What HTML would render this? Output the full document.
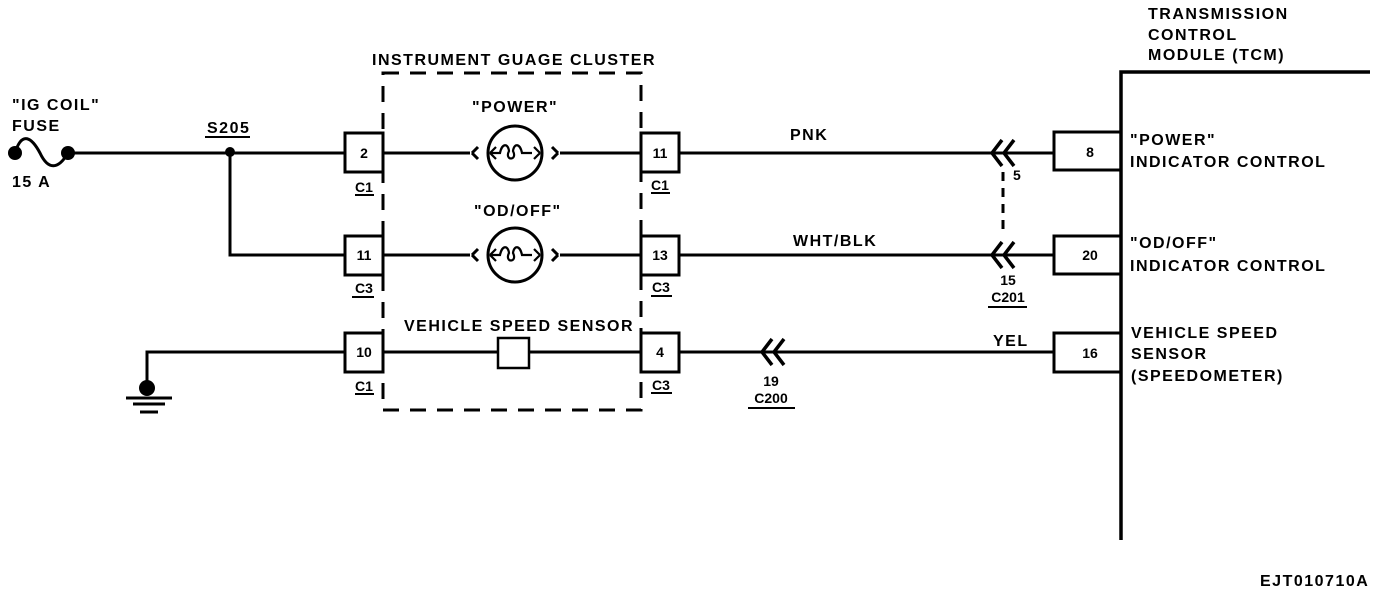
<!DOCTYPE html>
<html><head><style>
body{margin:0;background:#fff;}
svg text{font-family:"Liberation Sans",Arial,sans-serif;font-weight:bold;fill:#000;}
</style></head><body>
<svg width="1392" height="594" viewBox="0 0 1392 594" xmlns="http://www.w3.org/2000/svg">
<g stroke="#000" stroke-width="3" fill="none">
<path d="M15 153 C22 130 32 138 40 153 C48 170 58 170 68 153"/>
<line x1="68" y1="153" x2="345" y2="153"/>
<polyline points="230,152 230,255 345,255"/>
<line x1="383" y1="153" x2="470" y2="153"/>
<line x1="560" y1="153" x2="641" y2="153"/>
<line x1="383" y1="255" x2="470" y2="255"/>
<line x1="560" y1="255" x2="641" y2="255"/>
<line x1="383" y1="352" x2="498" y2="352"/>
<line x1="529" y1="352" x2="641" y2="352"/>
<line x1="679" y1="153" x2="1054" y2="153"/>
<line x1="679" y1="255" x2="1054" y2="255"/>
<line x1="679" y1="352" x2="1054" y2="352"/>
<polyline points="345,352 147,352 147,385"/>
<line x1="126" y1="398" x2="172" y2="398"/>
<line x1="133" y1="404" x2="165" y2="404"/>
<line x1="140" y1="412" x2="158" y2="412"/>
<rect x="345" y="133" width="38" height="39"/>
<rect x="345" y="236" width="38" height="39"/>
<rect x="345" y="333" width="38" height="39"/>
<rect x="641" y="133" width="38" height="39"/>
<rect x="641" y="236" width="38" height="39"/>
<rect x="641" y="333" width="38" height="39"/>
<rect x="498" y="338" width="31" height="30" stroke-width="2.5"/>
<rect x="1054" y="132" width="67" height="38"/>
<rect x="1054" y="236" width="67" height="38"/>
<rect x="1054" y="333" width="67" height="39"/>
<polyline points="1370,72 1121,72 1121,540" stroke-width="3.5"/>
<rect x="383" y="73" width="258" height="337" stroke-dasharray="16,11"/>
<circle cx="515" cy="153" r="27"/>
<circle cx="515" cy="255" r="27"/>
<path d="M472 153 l6 -6 M472 153 l6 6 M558 153 l-6 -6 M558 153 l-6 6"/>
<path d="M472 255 l6 -6 M472 255 l6 6 M558 255 l-6 -6 M558 255 l-6 6"/>
<path d="M490 153 h10 c2 -10 8 -10 9 -2 c-5 10 9 10 4 0 c1 -8 7 -8 9 2 h10 M490 153 l6 -6 M490 153 l6 6 M540 153 l-6 -6 M540 153 l-6 6" stroke-width="2.2"/>
<path d="M490 255 h10 c2 -10 8 -10 9 -2 c-5 10 9 10 4 0 c1 -8 7 -8 9 2 h10 M490 255 l6 -6 M490 255 l6 6 M540 255 l-6 -6 M540 255 l-6 6" stroke-width="2.2"/>
<path d="M1002 140 l-10 13 l10 13 M1014 140 l-10 13 l10 13" stroke-width="3.5"/>
<path d="M1002 242 l-10 13 l10 13 M1014 242 l-10 13 l10 13" stroke-width="3.5"/>
<path d="M772 339 l-10 13 l10 13 M784 339 l-10 13 l10 13" stroke-width="3.5"/>
<line x1="1003" y1="172" x2="1003" y2="236" stroke-dasharray="9,7"/>
<line x1="205" y1="137" x2="250" y2="137" stroke-width="2"/>
<line x1="355" y1="195" x2="374" y2="195" stroke-width="2"/>
<line x1="352" y1="297" x2="374" y2="297" stroke-width="2"/>
<line x1="355" y1="394" x2="374" y2="394" stroke-width="2"/>
<line x1="651" y1="193" x2="670" y2="193" stroke-width="2"/>
<line x1="651" y1="296" x2="672" y2="296" stroke-width="2"/>
<line x1="651" y1="393" x2="672" y2="393" stroke-width="2"/>
<line x1="988" y1="307" x2="1027" y2="307" stroke-width="2"/>
<line x1="748" y1="408" x2="795" y2="408" stroke-width="2"/>
</g>
<circle cx="15" cy="153" r="7"/><circle cx="68" cy="153" r="7"/>
<circle cx="230" cy="152" r="5"/>
<circle cx="147" cy="388" r="8"/>
<g font-size="16" letter-spacing="1.5">
<text x="12" y="110">"IG COIL"</text>
<text x="12" y="131">FUSE</text>
<text x="12" y="187">15 A</text>
<text x="207" y="133">S205</text>
<text x="372" y="65">INSTRUMENT GUAGE CLUSTER</text>
<text x="472" y="112">"POWER"</text>
<text x="474" y="216">"OD/OFF"</text>
<text x="404" y="331">VEHICLE SPEED SENSOR</text>
<text x="790" y="140">PNK</text>
<text x="793" y="246">WHT/BLK</text>
<text x="993" y="346">YEL</text>
<text x="1130" y="145">"POWER"</text>
<text x="1130" y="167">INDICATOR CONTROL</text>
<text x="1130" y="248">"OD/OFF"</text>
<text x="1130" y="271">INDICATOR CONTROL</text>
<text x="1131" y="338">VEHICLE SPEED</text>
<text x="1131" y="359">SENSOR</text>
<text x="1131" y="381">(SPEEDOMETER)</text>
<text x="1148" y="19">TRANSMISSION</text>
<text x="1148" y="40">CONTROL</text>
<text x="1148" y="60">MODULE (TCM)</text>
<text x="1260" y="586">EJT010710A</text>
</g>
<g font-size="14">
<text x="364" y="158" text-anchor="middle">2</text>
<text x="364" y="260" text-anchor="middle">11</text>
<text x="364" y="357" text-anchor="middle">10</text>
<text x="660" y="158" text-anchor="middle">11</text>
<text x="660" y="260" text-anchor="middle">13</text>
<text x="660" y="357" text-anchor="middle">4</text>
<text x="364" y="192" text-anchor="middle">C1</text>
<text x="364" y="293" text-anchor="middle">C3</text>
<text x="364" y="391" text-anchor="middle">C1</text>
<text x="660" y="190" text-anchor="middle">C1</text>
<text x="661" y="292" text-anchor="middle">C3</text>
<text x="661" y="390" text-anchor="middle">C3</text>
<text x="1013" y="180">5</text>
<text x="1008" y="285" text-anchor="middle">15</text>
<text x="1008" y="302" text-anchor="middle">C201</text>
<text x="771" y="386" text-anchor="middle">19</text>
<text x="771" y="403" text-anchor="middle">C200</text>
<text x="1090" y="157" text-anchor="middle">8</text>
<text x="1090" y="260" text-anchor="middle">20</text>
<text x="1090" y="358" text-anchor="middle">16</text>
</g>
</svg>
</body></html>
